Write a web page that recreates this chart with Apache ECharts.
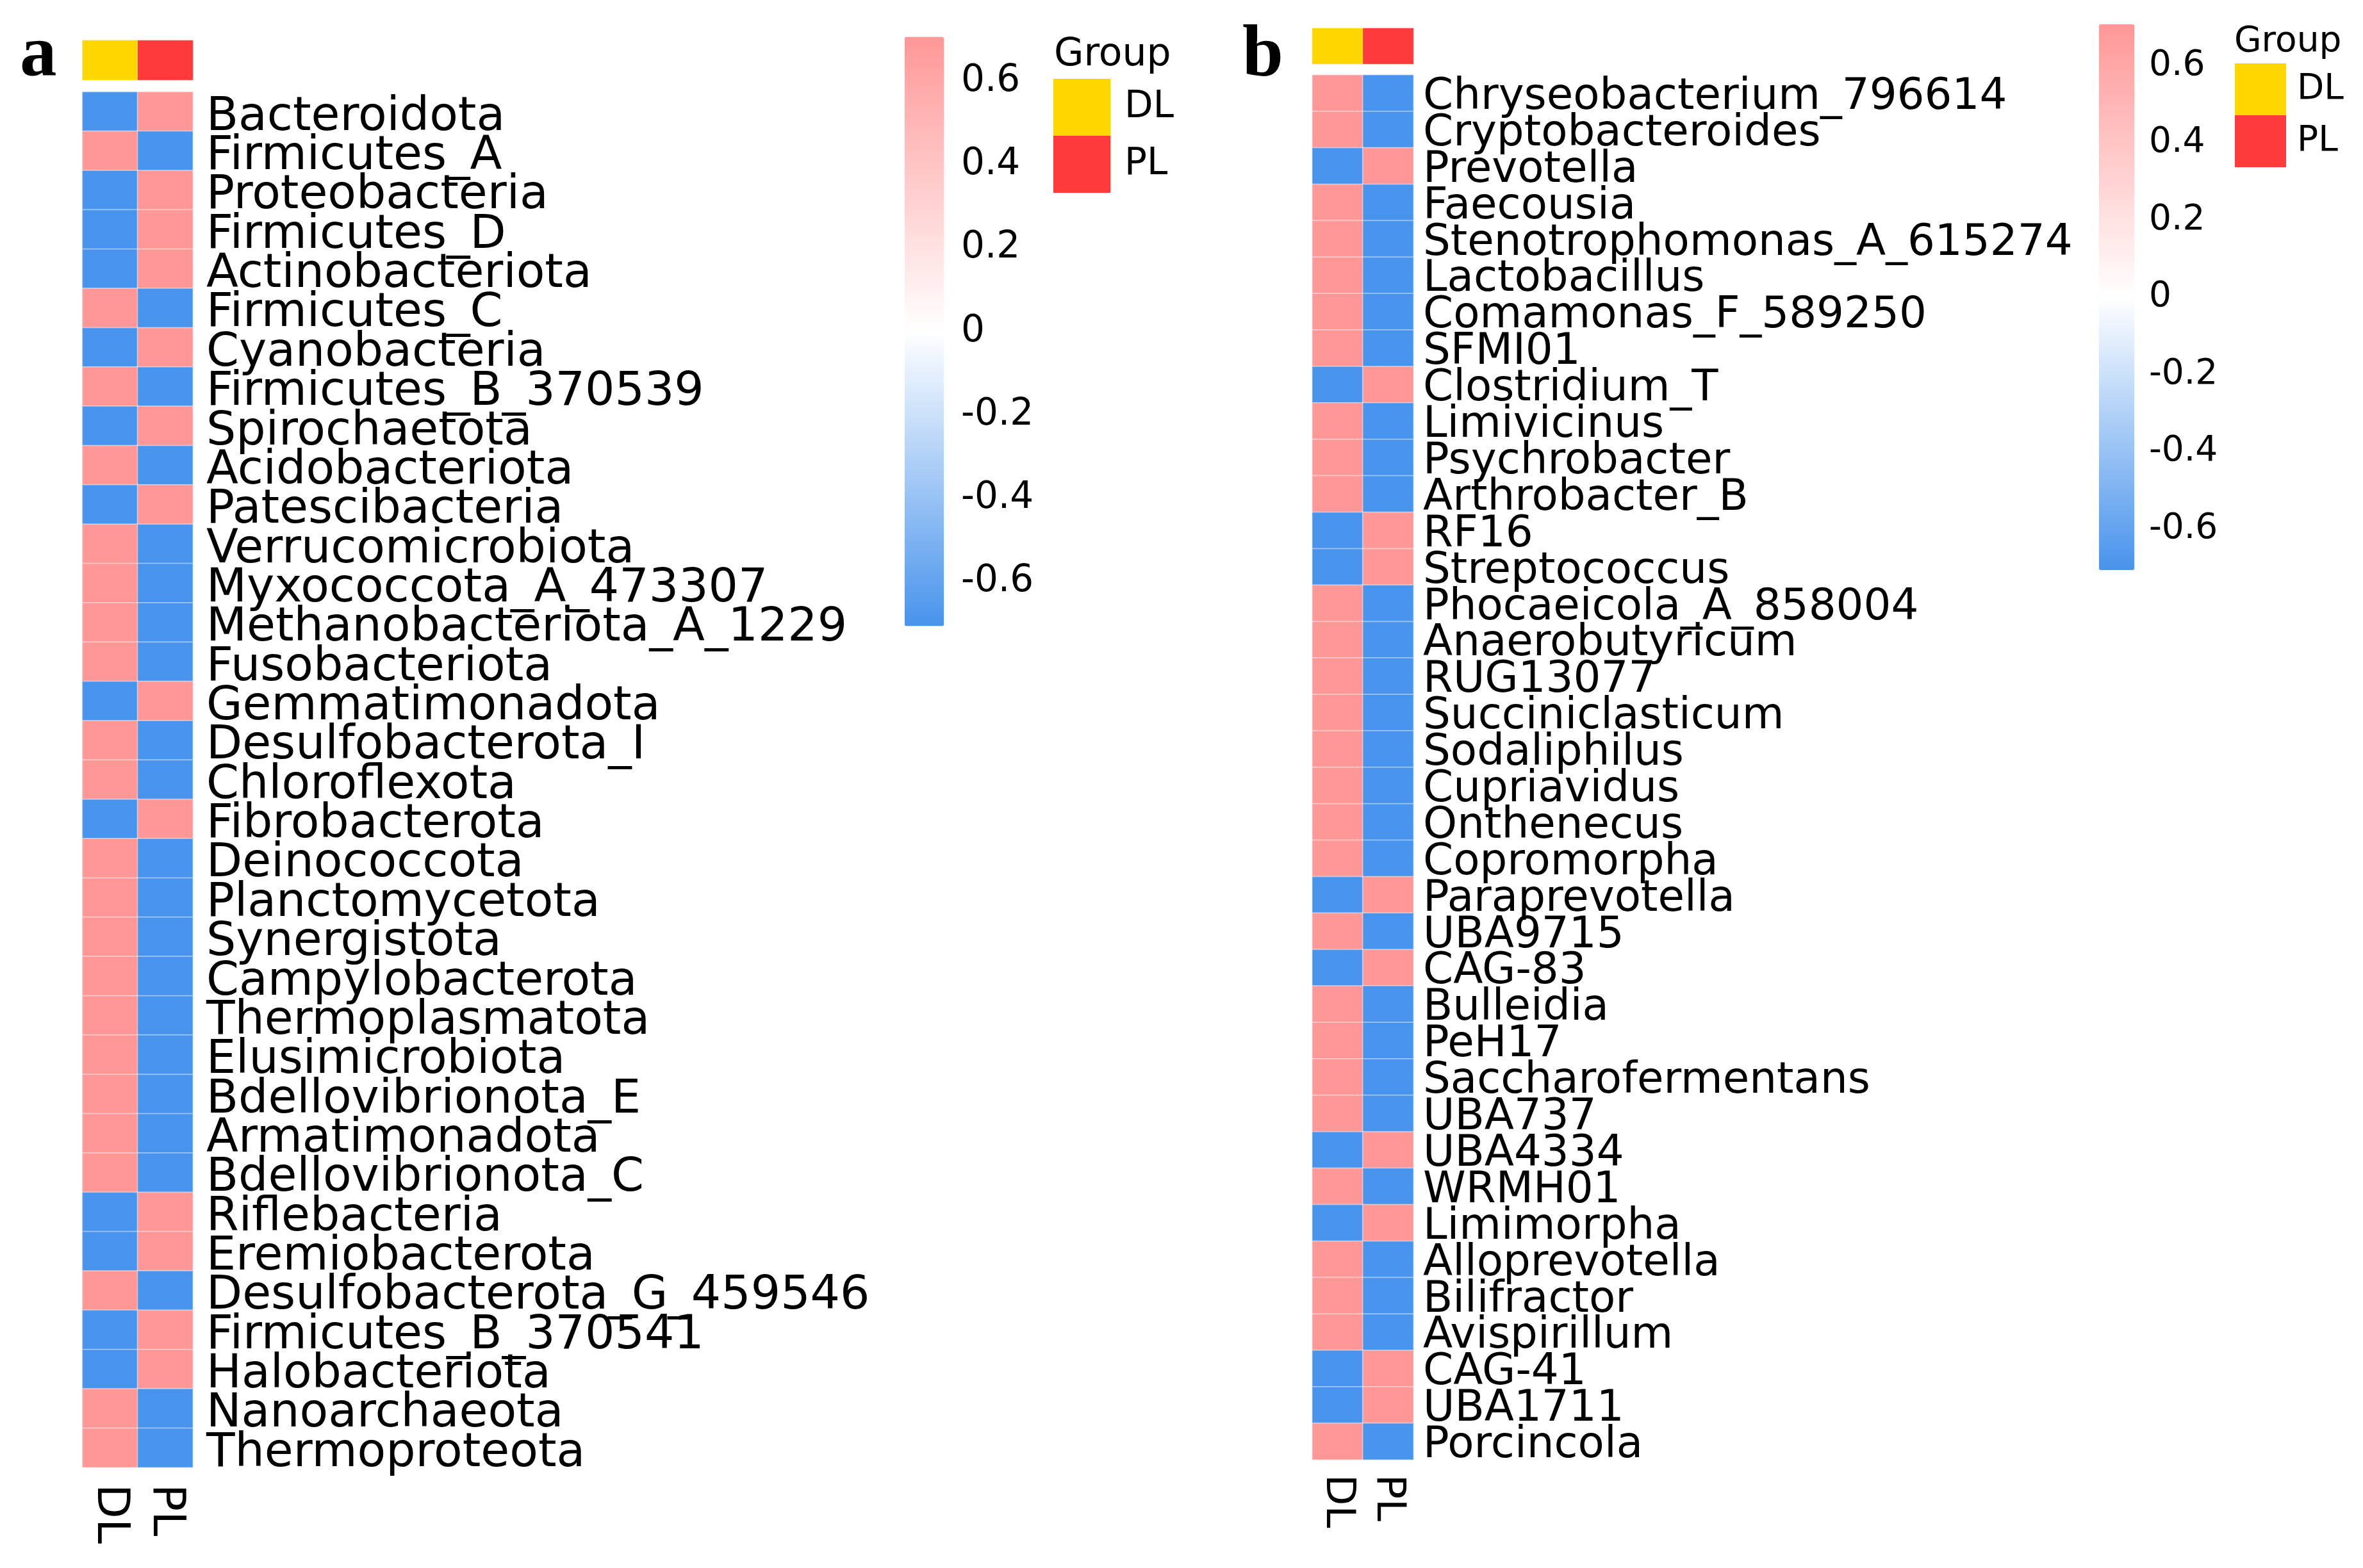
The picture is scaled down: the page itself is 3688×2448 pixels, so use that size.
<!DOCTYPE html>
<html>
<head>
<meta charset="utf-8">
<script src="https://cdn.jsdelivr.net/npm/echarts@6/dist/echarts.min.js"></script>
<style>
  html, body { margin: 0; padding: 0; background: #fff; }
  #main { width: 3688px; height: 2448px; }
</style>
</head>
<body>
<div id="main"></div>
<script>
// 分组
var groups = ['DL', 'PL'];

// a: 门水平
var rowsA = ['Bacteroidota', 'Firmicutes_A', 'Proteobacteria', 'Firmicutes_D', 'Actinobacteriota',
  'Firmicutes_C', 'Cyanobacteria', 'Firmicutes_B_370539', 'Spirochaetota', 'Acidobacteriota',
  'Patescibacteria', 'Verrucomicrobiota', 'Myxococcota_A_473307', 'Methanobacteriota_A_1229',
  'Fusobacteriota', 'Gemmatimonadota', 'Desulfobacterota_I', 'Chloroflexota', 'Fibrobacterota',
  'Deinococcota', 'Planctomycetota', 'Synergistota', 'Campylobacterota', 'Thermoplasmatota',
  'Elusimicrobiota', 'Bdellovibrionota_E', 'Armatimonadota', 'Bdellovibrionota_C', 'Riflebacteria',
  'Eremiobacterota', 'Desulfobacterota_G_459546', 'Firmicutes_B_370541', 'Halobacteriota',
  'Nanoarchaeota', 'Thermoproteota'];
var dlA = [-0.707, 0.707, -0.707, -0.707, -0.707, 0.707, -0.707, 0.707, -0.707, 0.707,
  -0.707, 0.707, 0.707, 0.707, 0.707, -0.707, 0.707, 0.707, -0.707, 0.707,
  0.707, 0.707, 0.707, 0.707, 0.707, 0.707, 0.707, 0.707, -0.707, -0.707,
  0.707, -0.707, -0.707, 0.707, 0.707];
var plA = [0.707, -0.707, 0.707, 0.707, 0.707, -0.707, 0.707, -0.707, 0.707, -0.707,
  0.707, -0.707, -0.707, -0.707, -0.707, 0.707, -0.707, -0.707, 0.707, -0.707,
  -0.707, -0.707, -0.707, -0.707, -0.707, -0.707, -0.707, -0.707, 0.707, 0.707,
  -0.707, 0.707, 0.707, -0.707, -0.707];

// b: 属水平
var rowsB = ['Chryseobacterium_796614', 'Cryptobacteroides', 'Prevotella', 'Faecousia',
  'Stenotrophomonas_A_615274', 'Lactobacillus', 'Comamonas_F_589250', 'SFMI01', 'Clostridium_T',
  'Limivicinus', 'Psychrobacter', 'Arthrobacter_B', 'RF16', 'Streptococcus', 'Phocaeicola_A_858004',
  'Anaerobutyricum', 'RUG13077', 'Succiniclasticum', 'Sodaliphilus', 'Cupriavidus', 'Onthenecus',
  'Copromorpha', 'Paraprevotella', 'UBA9715', 'CAG-83', 'Bulleidia', 'PeH17', 'Saccharofermentans',
  'UBA737', 'UBA4334', 'WRMH01', 'Limimorpha', 'Alloprevotella', 'Bilifractor', 'Avispirillum',
  'CAG-41', 'UBA1711', 'Porcincola'];
var dlB = [0.707, 0.707, -0.707, 0.707, 0.707, 0.707, 0.707, 0.707, -0.707, 0.707,
  0.707, 0.707, -0.707, -0.707, 0.707, 0.707, 0.707, 0.707, 0.707, 0.707,
  0.707, 0.707, -0.707, 0.707, -0.707, 0.707, 0.707, 0.707, 0.707, -0.707,
  0.707, -0.707, 0.707, 0.707, 0.707, -0.707, -0.707, 0.707];
var plB = [-0.707, -0.707, 0.707, -0.707, -0.707, -0.707, -0.707, -0.707, 0.707, -0.707,
  -0.707, -0.707, 0.707, 0.707, -0.707, -0.707, -0.707, -0.707, -0.707, -0.707,
  -0.707, -0.707, 0.707, -0.707, 0.707, -0.707, -0.707, -0.707, -0.707, 0.707,
  -0.707, 0.707, -0.707, -0.707, -0.707, 0.707, 0.707, -0.707];

// 色标刻度
var legendTicks = [-0.6, -0.4, -0.2, 0, 0.2, 0.4, 0.6];
var scaleMax = 0.7071;

var BLUE = '#4893EC', PINK = '#FF9797';
var FONT = 'DejaVu Sans';

function cells(dl, pl) {
  var out = [];
  for (var i = 0; i < dl.length; i++) {
    out.push([0, i, dl[i]]);
    out.push([1, i, pl[i]]);
  }
  return out;
}

function tickLabel(v) {
  return v === 0 ? '0' : v.toFixed(1);
}

var noAxis = { axisLine: { show: false }, axisTick: { show: false }, splitLine: { show: false } };

var myChart = echarts.init(document.getElementById('main'));

var option = {
  backgroundColor: '#fff',
  animation: false,
  textStyle: { fontFamily: FONT, color: '#000' },
  title: [
    { text: 'a', left: 31, top: 30, padding: 0,
      textStyle: { fontFamily: 'Liberation Serif', fontWeight: 'bold', fontSize: 115, color: '#000' } },
    { text: 'b', left: 1939, top: 31, padding: 0,
      textStyle: { fontFamily: 'Liberation Serif', fontWeight: 'bold', fontSize: 115, color: '#000' } },
    { text: 'Group', left: 1645, top: 56, padding: 0,
      textStyle: { fontFamily: FONT, fontWeight: 'normal', fontSize: 60, color: '#000' } },
    { text: 'Group', left: 3487, top: 38, padding: 0,
      textStyle: { fontFamily: FONT, fontWeight: 'normal', fontSize: 55, color: '#000' } }
  ],
  grid: [
    { left: 128.5, top: 143.5, width: 172.5, height: 2147.5 },   // 0 a 热图
    { left: 128.5, top: 63, width: 172.5, height: 62 },          // 1 a 分组条
    { left: 1412, top: 57.5, width: 61, height: 920 },           // 2 a 色标刻度
    { left: 2048, top: 117, width: 158, height: 2162 },          // 3 b 热图
    { left: 2048, top: 44, width: 158, height: 56 },             // 4 b 分组条
    { left: 3276, top: 38, width: 55, height: 852 },             // 5 b 色标刻度
    { left: 128.5, top: 153, width: 172.5, height: 2147.5 },     // 6 a 行名（略下移）
    { left: 2048, top: 124, width: 158, height: 2162 }           // 7 b 行名（略下移）
  ],
  xAxis: [
    Object.assign({ type: 'category', data: groups, gridIndex: 0, position: 'bottom',
      axisLabel: { interval: 0, rotate: -90, margin: 26, fontSize: 70, color: '#000', fontFamily: FONT } }, noAxis),
    { type: 'category', data: groups, gridIndex: 1, show: false },
    { type: 'value', gridIndex: 2, show: false },
    Object.assign({ type: 'category', data: groups, gridIndex: 3, position: 'bottom',
      axisLabel: { interval: 0, rotate: -90, margin: 23, fontSize: 63, color: '#000', fontFamily: FONT } }, noAxis),
    { type: 'category', data: groups, gridIndex: 4, show: false },
    { type: 'value', gridIndex: 5, show: false },
    { type: 'category', data: groups, gridIndex: 6, show: false },
    { type: 'category', data: groups, gridIndex: 7, show: false }
  ],
  yAxis: [
    { type: 'category', data: rowsA, gridIndex: 0, inverse: true, show: false },
    { type: 'category', data: ['Group'], gridIndex: 1, show: false },
    Object.assign({ type: 'value', gridIndex: 2, min: -scaleMax, max: scaleMax, position: 'right',
      axisLabel: { customValues: legendTicks, margin: 27, fontSize: 58,
        color: '#000', fontFamily: FONT, formatter: tickLabel } }, noAxis),
    { type: 'category', data: rowsB, gridIndex: 3, inverse: true, show: false },
    { type: 'category', data: ['Group'], gridIndex: 4, show: false },
    Object.assign({ type: 'value', gridIndex: 5, min: -scaleMax, max: scaleMax, position: 'right',
      axisLabel: { customValues: legendTicks, margin: 23, fontSize: 55,
        color: '#000', fontFamily: FONT, formatter: tickLabel } }, noAxis),
    Object.assign({ type: 'category', data: rowsA, gridIndex: 6, inverse: true, position: 'right',
      axisLabel: { interval: 0, margin: 21, fontSize: 73, color: '#000', fontFamily: FONT } }, noAxis),
    Object.assign({ type: 'category', data: rowsB, gridIndex: 7, inverse: true, position: 'right',
      axisLabel: { interval: 0, margin: 15, fontSize: 67.5, color: '#000', fontFamily: FONT } }, noAxis)
  ],
  visualMap: [
    { type: 'continuous', seriesIndex: 0, min: -scaleMax, max: scaleMax, calculable: false,
      left: 1412, top: 57.5, itemWidth: 61, itemHeight: 920, padding: 0, text: null,
      showLabel: false, inRange: { color: [BLUE, '#FFFFFF', PINK] } },
    { type: 'piecewise', seriesIndex: 1, left: 1644, top: 123, padding: 0, orient: 'vertical',
      itemWidth: 89, itemHeight: 89, itemGap: 0, textGap: 22, itemSymbol: 'rect', align: 'left',
      selectedMode: false, inverse: true,
      textStyle: { fontSize: 58, color: '#000', fontFamily: FONT },
      pieces: [{ value: 0, label: 'DL', color: '#FFD700' }, { value: 1, label: 'PL', color: '#FF3A3A' }] },
    { type: 'continuous', seriesIndex: 2, min: -scaleMax, max: scaleMax, calculable: false,
      left: 3276, top: 38, itemWidth: 55, itemHeight: 852, padding: 0, text: null,
      showLabel: false, inRange: { color: [BLUE, '#FFFFFF', PINK] } },
    { type: 'piecewise', seriesIndex: 3, left: 3488, top: 99, padding: 0, orient: 'vertical',
      itemWidth: 80, itemHeight: 81, itemGap: 0, textGap: 17, itemSymbol: 'rect', align: 'left',
      selectedMode: false, inverse: true,
      textStyle: { fontSize: 55, color: '#000', fontFamily: FONT },
      pieces: [{ value: 0, label: 'DL', color: '#FFD700' }, { value: 1, label: 'PL', color: '#FF3A3A' }] }
  ],
  series: [
    { type: 'heatmap', xAxisIndex: 0, yAxisIndex: 0, data: cells(dlA, plA),
      itemStyle: { borderColor: 'rgba(255,255,255,0.35)', borderWidth: 2 } },
    { type: 'heatmap', xAxisIndex: 1, yAxisIndex: 1, data: [[0, 0, 0], [1, 0, 1]],
      itemStyle: { borderColor: 'rgba(255,255,255,0.35)', borderWidth: 1 } },
    { type: 'heatmap', xAxisIndex: 3, yAxisIndex: 3, data: cells(dlB, plB),
      itemStyle: { borderColor: 'rgba(255,255,255,0.35)', borderWidth: 2 } },
    { type: 'heatmap', xAxisIndex: 4, yAxisIndex: 4, data: [[0, 0, 0], [1, 0, 1]],
      itemStyle: { borderColor: 'rgba(255,255,255,0.35)', borderWidth: 1 } }
  ]
};

myChart.setOption(option);

window.addEventListener('resize', function () {
  myChart.resize();
});
</script>
</body>
</html>
